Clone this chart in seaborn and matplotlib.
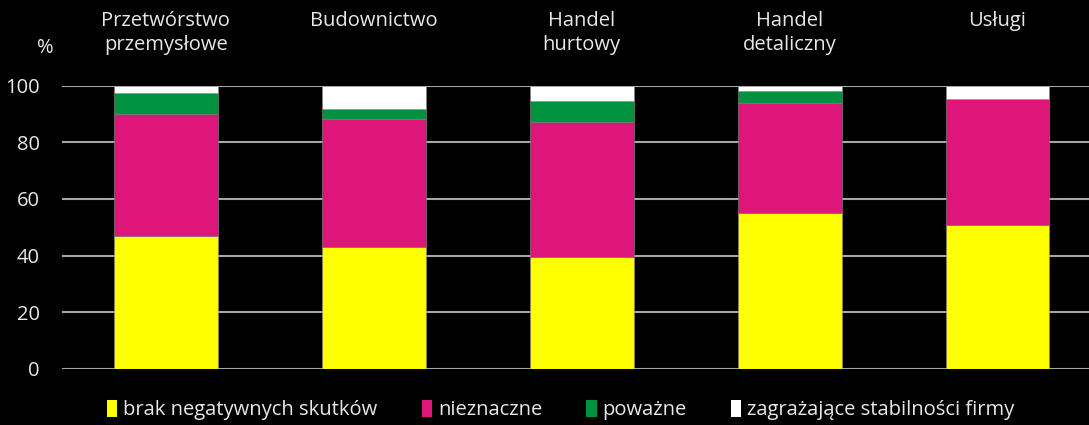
import pandas as pd
import matplotlib.pyplot as plt
import matplotlib.patches as mpatches
import matplotlib.transforms as mtransforms
import seaborn as sns

# --- DATA ---
sectors = ['Przetwórstwo\nprzemysłowe', 'Budownictwo', 'Handel\nhurtowy',
           'Handel\ndetaliczny', 'Usługi']
brak = [46.9, 43.0, 39.6, 55.1, 50.9]
nieznaczne = [43.1, 45.1, 47.7, 38.9, 44.5]
powazne = [7.2, 3.7, 7.2, 4.1, 0.0]
zagrazajace = [2.8, 8.2, 5.5, 1.9, 4.6]

series_names = ['brak negatywnych skutków', 'nieznaczne', 'poważne',
                'zagrażające stabilności firmy']
colors = ['#FFFF00', '#DE1679', '#00923F', '#FFFFFF']
yticks = [0, 20, 40, 60, 80, 100]

# --- SETUP ---
sns.set_theme(style="white")
plt.rcParams['font.family'] = ['Open Sans', 'DejaVu Sans']
txt_color = '#E8E8E8'
fs = 14.5

df = pd.DataFrame({'sector': sectors, 'brak': brak, 'nieznaczne': nieznaczne,
                   'powazne': powazne, 'zagrazajace': zagrazajace})
cols = ['brak', 'nieznaczne', 'powazne', 'zagrazajace']

fig = plt.figure(figsize=(10.89, 4.25), dpi=100, facecolor='black')
ax = fig.add_axes([0.0569, 0.1318, 0.9431, 0.667])
ax.set_facecolor('black')

# stacked bars
bottom = [0.0] * len(sectors)
for col, color in zip(cols, colors):
    sns.barplot(data=df, x='sector', y=col, bottom=bottom, color=color,
                width=0.5, ax=ax, edgecolor='#888888', linewidth=0.4,
                saturation=1, zorder=3)
    bottom = [b + v for b, v in zip(bottom, df[col])]

ax.set_xlim(-0.5, 4.44)
ax.set_ylim(0, 100)
ax.set_yticks(yticks)
ax.yaxis.grid(True, color='#A6A6A6', linewidth=1.5, zorder=0)
ax.set_axisbelow(True)
for s in ax.spines.values():
    s.set_visible(False)
ax.set_xticks([])
ax.set_xlabel('')
ax.set_ylabel('')
ax.tick_params(axis='y', colors=txt_color, labelsize=fs, length=0, pad=16)

# category labels above the plot
trans = mtransforms.blended_transform_factory(ax.transData, fig.transFigure)
for i, name in enumerate(sectors):
    ax.text(i, 1 - 11 / 425, name, transform=trans, ha='center', va='top',
            color=txt_color, fontsize=fs, linespacing=1.25)

fig.text(45 / 1089, 1 - 48 / 425, '%', ha='center', va='center',
         color=txt_color, fontsize=fs)

handles = [mpatches.Patch(facecolor=c, edgecolor='none', label=n)
           for c, n in zip(colors, series_names)]
fig.legend(handles=handles, loc='center', bbox_to_anchor=(0.515, 1 - 410 / 425),
           ncol=4, frameon=False, fontsize=fs, labelcolor=txt_color,
           handlelength=0.5, handleheight=0.9, handletextpad=0.3,
           columnspacing=2.2)

plt.savefig('out.png', dpi=100, facecolor='black')
plt.close()
